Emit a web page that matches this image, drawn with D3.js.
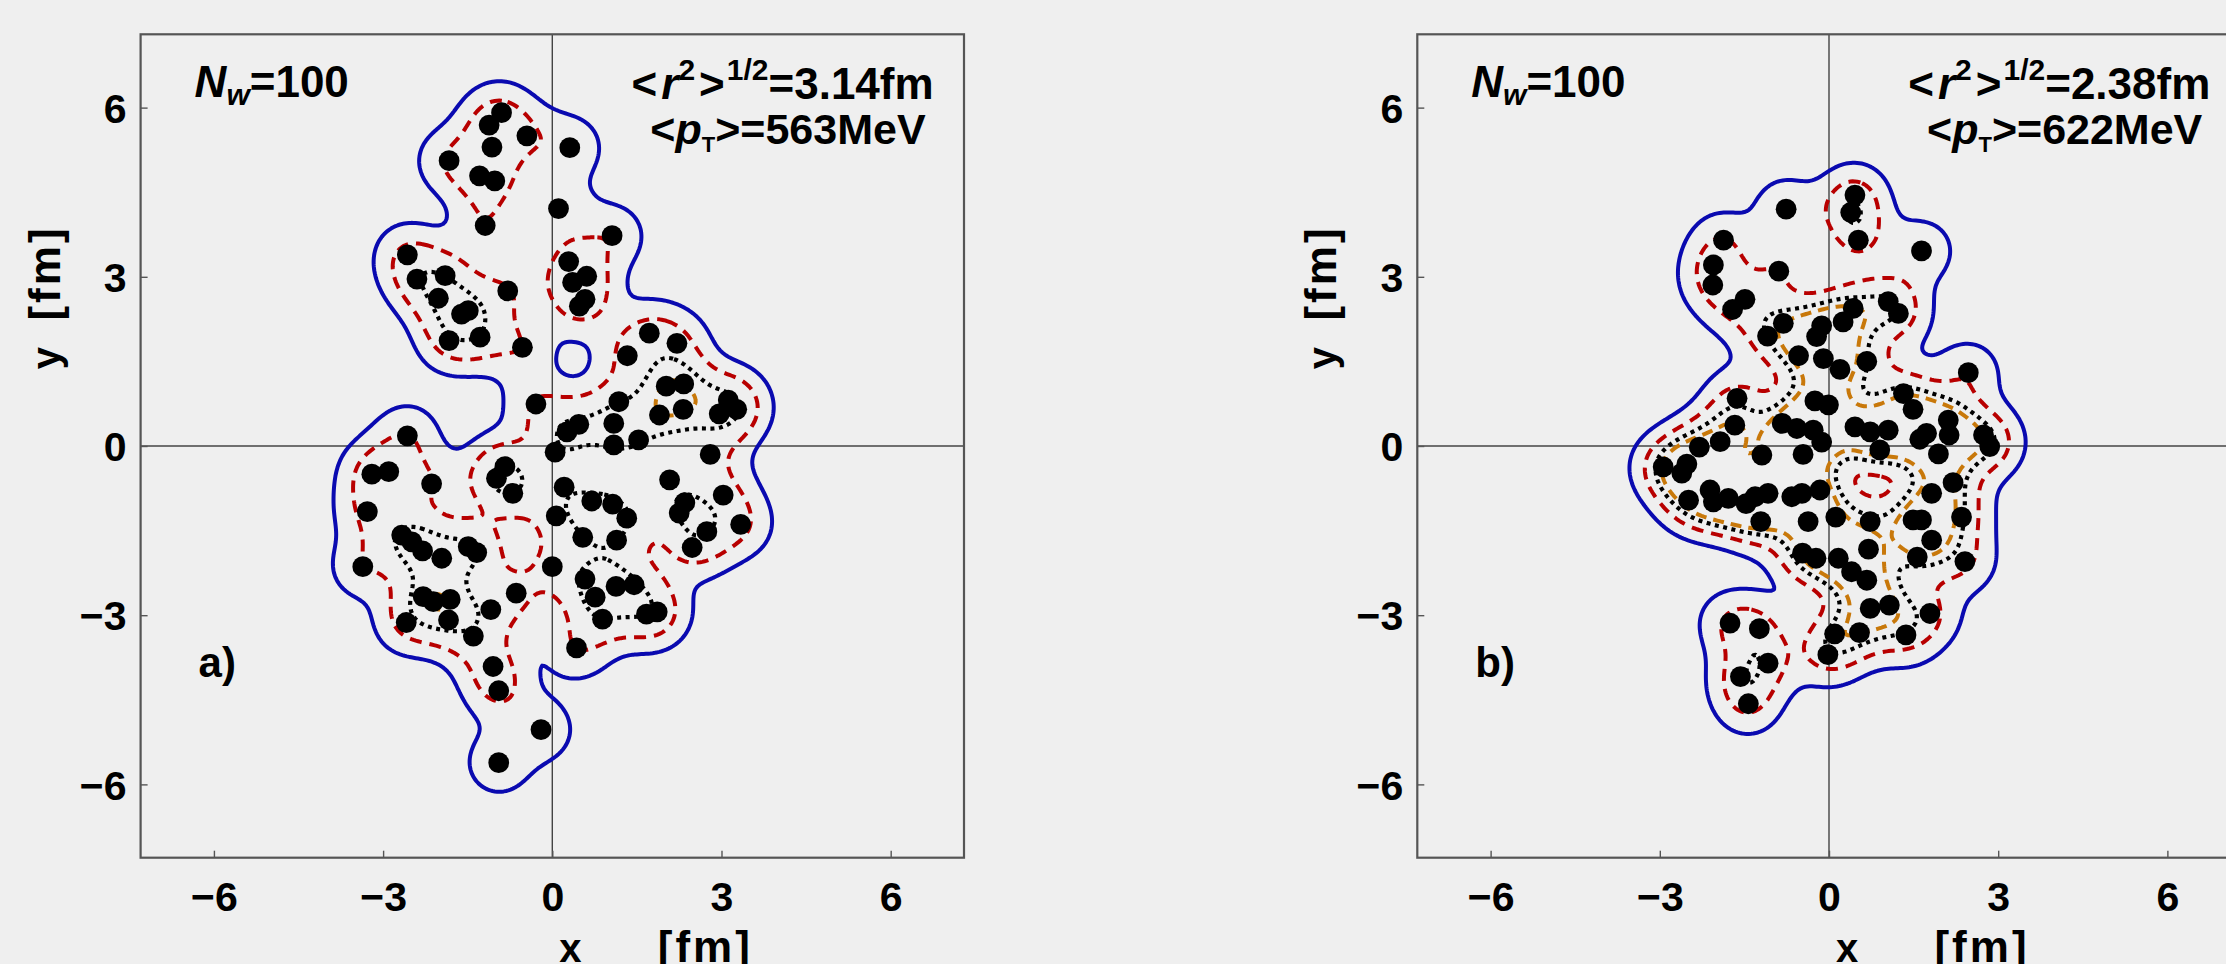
<!DOCTYPE html>
<html><head><meta charset="utf-8">
<script src="https://cdn.jsdelivr.net/npm/d3@7"></script>
<style>
html,body{margin:0;padding:0;background:#efefef;overflow:hidden;}
svg{display:block;}
text{font-family:"Liberation Sans",Arial,sans-serif;font-weight:bold;fill:#000;}
</style></head><body>
<svg id="chart" width="2226" height="964"></svg>
<script>
// ---------------- data ----------------
const xTicks = [-6, -3, 0, 3, 6];
const yTicks = [-6, -3, 0, 3, 6];
const panelTags = ["a)", "b)"];
const nwValues = ["100", "100"];
const rmsValues = ["3.14", "2.38"];
const ptValues = ["563", "622"];
// wounded nucleon positions [x, y] in fm, optional third entry = relative source strength
const pointsA = [
 [-0.90,5.91,0.8],[-1.12,5.69,0.8],[-0.45,5.50,0.8],[-1.07,5.30,0.8],[-1.83,5.06],[-1.29,4.79,0.8],[-1.02,4.70,0.8],[-1.19,3.91],
 [-2.57,3.39],[-2.40,2.96],[-1.90,3.02],[-0.79,2.75],[-2.02,2.62],[-1.61,2.34],[-1.49,2.40],[-1.83,1.87],
 [-1.28,1.93],[-0.53,1.75],[-0.29,0.745],[-2.57,0.18],
 [0.31,5.29],[0.11,4.21],[1.06,3.73],[0.29,3.27,0.8],[0.61,3.01,0.64],[0.36,2.90,0.64],[0.58,2.60,0.64],[0.48,2.48,0.64],
 [1.72,2.00],[2.21,1.82],[1.33,1.60],[2.02,1.06,1.35],[2.33,1.10,1.35],[1.90,0.55,1.35],[2.32,0.65,1.35],[1.18,0.785],
 [1.09,0.40],[0.47,0.385],[0.26,0.25],[1.09,0.02],[1.53,0.11],[3.12,0.815],[3.27,0.65],[2.96,0.57],
 [0.05,-0.11],[2.80,-0.15],
 [-3.20,-0.50],[-2.90,-0.455],[-2.14,-0.67],[-3.28,-1.165],[-3.36,-2.14],[-2.67,-1.58],[-2.49,-1.70],
 [-2.30,-1.86],[-1.96,-1.99],[-1.49,-1.785,1.1],[-1.34,-1.89,1.1],[-2.29,-2.67],[-2.11,-2.76],[-1.81,-2.72],
 [-1.84,-3.085],[-2.59,-3.13],[-1.40,-3.37],[-1.09,-2.90],[-0.64,-2.61],[-1.05,-3.91],[-0.95,-4.34],
 [-0.20,-5.03],[-0.95,-5.615],[-0.84,-0.367,1.15],[-0.99,-0.573,1.15],[-0.70,-0.84,1.15],
 [2.08,-0.60],[3.03,-0.87],[2.35,-1.005,0.85],[2.25,-1.19,0.85],[2.74,-1.52],[3.34,-1.39],[2.48,-1.80],
 [0.21,-0.73],[0.07,-1.24],[0.70,-0.975],[1.07,-1.03],[1.32,-1.28],[0.54,-1.62],[1.14,-1.67],
 [0.00,-2.14],[0.58,-2.36],[1.13,-2.49],[1.45,-2.46],[0.76,-2.68],[0.89,-3.07],[1.67,-2.98],
 [1.86,-2.94],[0.43,-3.58]
];
const pointsB = [
 [-0.76,4.20],[-1.87,3.65,0.8],[-2.05,3.21,0.75],[-2.06,2.855,0.75],[-0.89,3.10],[-1.49,2.60,0.55],[-1.71,2.42,0.55],
 [-0.81,2.175],[-1.09,1.95,0.85],[-0.13,2.13],[-0.22,1.94],[-0.54,1.60],[-0.10,1.55],[-1.63,0.845],
 [-1.67,0.37],[-1.93,0.076],[-2.30,-0.02],[-0.25,0.80],[-0.01,0.73],[-0.83,0.40],[-0.57,0.31],
 [-0.28,0.28],[-0.13,0.07],[-1.19,-0.16],[-0.46,-0.15],
 [0.46,4.45],[0.385,4.14],[0.52,3.65],[1.64,3.46],[2.47,1.30],[1.05,2.56],[1.23,2.35],[0.43,2.44],
 [0.25,2.20],[0.195,1.36],[0.67,1.50],[1.32,0.93],[1.49,0.65],[0.46,0.34],[0.73,0.25],[1.05,0.28],
 [1.73,0.225],[1.61,0.12],[2.115,0.46],[2.13,0.195],[2.74,0.195],[2.85,-0.01],[0.90,-0.07],[1.94,-0.14],
 [-2.94,-0.37],[-2.52,-0.32],[-2.61,-0.48],[-2.49,-0.96],[-2.11,-0.78],[-2.05,-0.99],[-1.785,-0.93],
 [-1.47,-1.02],[-1.31,-0.90],[-1.08,-0.84],[-1.21,-1.34],[-0.66,-0.90],[-0.48,-0.84],[-0.16,-0.78],
 [-0.37,-1.34],[-0.47,-1.90],[-0.23,-1.99],[-0.02,-3.70],[-1.755,-3.14],[-1.235,-3.24],[-1.08,-3.85],
 [-1.57,-4.09],[-1.43,-4.57],
 [2.20,-0.65],[1.82,-0.84],[0.12,-1.26],[0.73,-1.34],[1.49,-1.31],[1.64,-1.31],[2.35,-1.26],
 [1.82,-1.67],[1.565,-1.97],[2.41,-2.05],[0.70,-1.83],[0.165,-1.99],[0.40,-2.23],[0.67,-2.38],
 [0.73,-2.88],[1.07,-2.82],[1.79,-2.97],[0.10,-3.33],[0.54,-3.31],[1.365,-3.35]
];
// density contour levels per panel (source smearing width in fm)
const smearWidth = 0.4;
const contourLevelsA = [0.44, 1.3, 2.65, 3.85];
const contourLevelsB = [0.45, 1.25, 2.1, 2.65];

// ---------------- styles ----------------
const levelStyles = [
  {stroke:"#0a0ab0", dash:null, width:4},
  {stroke:"#b80000", dash:"12,8", width:4},
  {stroke:"#000000", dash:"4,4.5", width:4.2},
  {stroke:"#c8780a", dash:"11,7", width:4}
];
const domain = [-7.3, 7.3];
const plotW = 823.4, plotTop = 34.3, plotBottom = 857.7;
const panels = [
  {left:140.6, pts:pointsA, levels:contourLevelsA},
  {left:1417.3, pts:pointsB, levels:contourLevelsB}
];

const svg = d3.select("#chart");
const defs = svg.append("defs");

// grid for density
const step = 0.04;
const n = Math.round((domain[1]-domain[0])/step) + 1;

function density(pts){
  const vals = new Float64Array(n*n);
  const s2 = 2*smearWidth*smearWidth;
  const R = 4*smearWidth;
  const rc = Math.ceil(R/step);
  for (const pt of pts){
    const px = pt[0], py = pt[1], w = pt.length > 2 ? pt[2] : 1;
    const ci = Math.round((px-domain[0])/step), cj = Math.round((py-domain[0])/step);
    for (let j=Math.max(0,cj-rc); j<=Math.min(n-1,cj+rc); j++){
      const y = domain[0]+j*step, dy=y-py;
      for (let i=Math.max(0,ci-rc); i<=Math.min(n-1,ci+rc); i++){
        const x = domain[0]+i*step, dx=x-px;
        vals[j*n+i] += w*Math.exp(-(dx*dx+dy*dy)/s2);
      }
    }
  }
  return vals;
}

const FS = 44;
panels.forEach((p, k) => {
  const xs = d3.scaleLinear().domain(domain).range([p.left, p.left+plotW]);
  const ys = d3.scaleLinear().domain(domain).range([plotBottom, plotTop]);
  const g = svg.append("g");
  const clipId = "clip"+k;
  defs.append("clipPath").attr("id", clipId).append("rect")
    .attr("x", xs(domain[0])).attr("y", ys(domain[1]))
    .attr("width", plotW).attr("height", plotBottom-plotTop);
  const inner = g.append("g").attr("clip-path", `url(#${clipId})`);

  // axes lines through origin
  inner.append("line").attr("x1", xs(0)).attr("x2", xs(0)).attr("y1", ys(domain[0])).attr("y2", ys(domain[1]))
    .attr("stroke", "#444").attr("stroke-width", 1.4);
  inner.append("line").attr("y1", ys(0)).attr("y2", ys(0)).attr("x1", xs(domain[0])).attr("x2", xs(domain[1]))
    .attr("stroke", "#444").attr("stroke-width", 1.4);

  // contours
  const vals = density(p.pts);
  const contours = d3.contours().size([n, n]).thresholds(p.levels)(vals);
  const proj = d3.geoTransform({
    point: function(gx, gy){
      this.stream.point(xs(domain[0]+(gx-0.5)*step), ys(domain[0]+(gy-0.5)*step));
    }
  });
  const path = d3.geoPath(proj);
  inner.selectAll("path.ct").data(contours).join("path")
    .attr("class","ct")
    .attr("d", path)
    .attr("fill", "none")
    .attr("stroke", (d,i) => levelStyles[i].stroke)
    .attr("stroke-width", (d,i) => levelStyles[i].width)
    .attr("stroke-dasharray", (d,i) => levelStyles[i].dash)
    .attr("stroke-linejoin","round");

  // dots
  inner.selectAll("circle.pt").data(p.pts).join("circle")
    .attr("class","pt")
    .attr("cx", d => xs(d[0])).attr("cy", d => ys(d[1]))
    .attr("r", 10.4).attr("fill", "#000");

  // frame
  g.append("rect").attr("x", xs(domain[0])).attr("y", ys(domain[1]))
    .attr("width", plotW).attr("height", plotBottom-plotTop)
    .attr("fill","none").attr("stroke","#555").attr("stroke-width",2.2);

  // ticks (inward)
  const fmt = d => d < 0 ? "\u2212" + Math.abs(d) : d;
  const xAxis = d3.axisBottom(xs).tickValues(xTicks).tickSize(-7).tickPadding(14).tickFormat(fmt);
  const gx = g.append("g").attr("transform", `translate(0,${plotBottom})`).call(xAxis);
  gx.select(".domain").remove();
  gx.selectAll(".tick line").attr("stroke","#555").attr("stroke-width",1.4);
  gx.selectAll(".tick text").attr("font-size", 41).attr("font-family","Liberation Sans, Arial, sans-serif")
    .attr("font-weight","bold").attr("fill","#000").attr("dy","0.95em");

  const yAxis = d3.axisLeft(ys).tickValues(yTicks).tickSize(-7).tickPadding(14).tickFormat(fmt);
  const gy = g.append("g").attr("transform", `translate(${p.left},0)`).call(yAxis);
  gy.select(".domain").remove();
  gy.selectAll(".tick line").attr("stroke","#555").attr("stroke-width",1.4);
  gy.selectAll(".tick text").attr("font-size", 41).attr("font-family","Liberation Sans, Arial, sans-serif")
    .attr("font-weight","bold").attr("fill","#000").attr("dy","0.36em");

  // axis titles
  g.append("text").attr("x", xs(0)+18).attr("y", 962).attr("text-anchor","middle").attr("font-size",40).text("x");
  g.append("text").attr("x", xs(0)+153).attr("y", 962).attr("text-anchor","middle").attr("font-size",44)
    .attr("letter-spacing",3).text("[fm]");
  g.append("text").attr("transform", `translate(${p.left-81},${ys(0)-88}) rotate(-90)`)
    .attr("text-anchor","middle").attr("font-size",40).text("y");
  g.append("text").attr("transform", `translate(${p.left-81},${ys(0)-173}) rotate(-90)`)
    .attr("text-anchor","middle").attr("font-size",44).attr("letter-spacing",3).text("[fm]");

  // annotations
  const t1 = g.append("text").attr("x", p.left+54).attr("y", 97).attr("font-size", FS);
  t1.append("tspan").attr("font-style","italic").text("N");
  t1.append("tspan").attr("font-style","italic").attr("font-size",30).attr("dy",8).text("w");
  t1.append("tspan").attr("dy",-8).text("=" + nwValues[k]);

  const t2 = g.append("text").attr("x", p.left+793).attr("y", 99).attr("font-size", FS).attr("text-anchor","end");
  t2.append("tspan").text("<");
  t2.append("tspan").attr("font-style","italic").attr("dx",4).text("r");
  t2.append("tspan").attr("font-size",30).attr("dy",-19).text("2");
  t2.append("tspan").attr("dy",19).attr("dx",4).text(">");
  t2.append("tspan").attr("font-size",30).attr("dy",-19).attr("dx",2).text("1/2");
  t2.append("tspan").attr("dy",19).text("=" + rmsValues[k] + "fm");

  const t3 = g.append("text").attr("x", p.left+785).attr("y", 144).attr("font-size", 43).attr("text-anchor","end");
  t3.append("tspan").text("<");
  t3.append("tspan").attr("font-style","italic").text("p");
  t3.append("tspan").attr("font-size",22).attr("dy",8).text("T");
  t3.append("tspan").attr("dy",-8).text(">=" + ptValues[k] + "MeV");

  g.append("text").attr("x", p.left+58).attr("y", 677).attr("font-size", 42).text(panelTags[k]);
});
</script>
</body></html>
